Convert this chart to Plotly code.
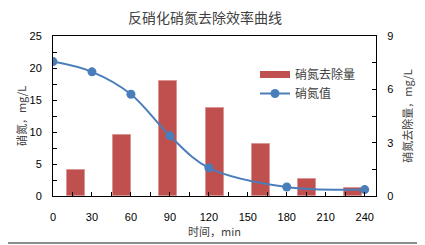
import plotly.graph_objects as go

# Data
bar_categories = ["0-30", "30-60", "60-90", "90-120", "120-150", "150-180", "180-240"]
removal_values = [1.45, 3.45, 6.47, 4.97, 2.92, 0.94, 0.47]   # 硝氮去除量, mg/L (right axis)
time_points = [0, 30, 60, 90, 120, 180, 240]
nitrate_values = [21.0, 19.4, 15.9, 9.4, 4.4, 1.4, 1.0]        # 硝氮值, mg/L (left axis)
x_tick_vals = [0, 30, 60, 90, 120, 150, 180, 210, 240]
left_tick_vals = [0, 5, 10, 15, 20, 25]
right_tick_vals = [0, 3, 6, 9]

# page body has an 8px default margin, so the figure is laid out 8px smaller/offset
OFF = 8
W, H = 425 - OFF, 245 - OFF
ML, MT = 53 - OFF, 36 - OFF
PW, PH = 323, 160
MR, MB = W - ML - PW, H - MT - PH

BAR_RED = "#C0504D"
LINE_BLUE = "#4A7EBB"
FONT = "Noto Sans CJK SC"
NUMFONT = "Liberation Sans"

fig = go.Figure()

fig.add_trace(go.Bar(
    x=bar_categories, y=removal_values, xaxis="x", yaxis="y",
    marker=dict(color=BAR_RED, line=dict(color="#D99694", width=1)),
    width=0.39, showlegend=False, name="硝氮去除量",
))
# legend entry styled like Excel's wide swatch
fig.add_trace(go.Scatter(
    x=[None], y=[None], xaxis="x2", yaxis="y2", mode="lines",
    line=dict(color=BAR_RED, width=7), name="硝氮去除量",
))
fig.add_trace(go.Scatter(
    x=time_points, y=nitrate_values, xaxis="x2", yaxis="y2",
    mode="lines+markers", line=dict(color=LINE_BLUE, width=2, shape="spline", smoothing=1.0),
    marker=dict(color=LINE_BLUE, size=9), name="硝氮值",
))

axis_font = dict(family=NUMFONT, size=11, color="#000000")
title_font = dict(family=FONT, size=11, color="#404040")

def px_x(p):
    return (p - ML) / PW

def px_y(p):
    return (MT + PH - p) / PH

BORDER = "#8C8C8C"
BX, BY = W - 2, H - 2
fig.update_layout(
    width=W, height=H,
    margin=dict(l=ML, r=MR, t=MT, b=MB, autoexpand=False),
    paper_bgcolor="white", plot_bgcolor="white",
    title=dict(text="反硝化硝氮去除效率曲线", x=(205 - OFF) / W, xanchor="center",
               y=1 - (18 - OFF) / H, yanchor="middle",
               font=dict(family=FONT, size=14, color="#404040")),
    bargap=0,
    xaxis=dict(type="category", range=[-0.5, 6.5], visible=False),
    yaxis=dict(side="right", range=[0, 9], tickvals=right_tick_vals,
               ticks="inside", ticklen=4, tickcolor="#000", tickfont=axis_font,
               minor=dict(dtick=1.5, ticks="inside", ticklen=4, tickcolor="#000"),
               showline=True, linecolor="#000", linewidth=1, showgrid=False, zeroline=False,
               ticklabelstandoff=8, automargin=False,
               title=dict(text="硝氮去除量，mg/L", font=title_font, standoff=11)),
    xaxis2=dict(overlaying="x", anchor="y", side="bottom", range=[0, 248.7],
                tickvals=x_tick_vals, ticks="inside", ticklen=4, tickcolor="#000",
                tickfont=axis_font,
                minor=dict(dtick=15, ticks="inside", ticklen=4, tickcolor="#000"),
                showline=True, linecolor="#000", linewidth=1, mirror=True,
                showgrid=False, zeroline=False, ticklabelstandoff=11, automargin=False,
                title=dict(text="时间，min", font=title_font, standoff=2)),
    yaxis2=dict(overlaying="y", anchor="x", side="left", range=[0, 25],
                tickvals=left_tick_vals, ticks="inside", ticklen=4, tickcolor="#000",
                tickfont=axis_font,
                minor=dict(dtick=2.5, ticks="inside", ticklen=4, tickcolor="#000"),
                showline=True, linecolor="#000", linewidth=1, showgrid=False, zeroline=False,
                ticklabelstandoff=8, automargin=False,
                title=dict(text="硝氮，mg/L", font=title_font, standoff=0)),
    legend=dict(x=(255 - OFF - ML) / PW, y=1 - (60 - OFF - MT) / PH, xanchor="left", yanchor="top",
                bgcolor="rgba(0,0,0,0)", font=dict(family=FONT, size=12, color="#404040"),
                tracegroupgap=0, itemwidth=30),
    shapes=[
        dict(type="line", xref="paper", yref="paper",
             x0=px_x(0), x1=px_x(BX), y0=px_y(BY), y1=px_y(BY),
             line=dict(color=BORDER, width=2), layer="above"),
        dict(type="line", xref="paper", yref="paper",
             x0=px_x(BX), x1=px_x(BX), y0=px_y(0), y1=px_y(BY),
             line=dict(color=BORDER, width=2), layer="above"),
    ],
)

fig.write_html("out.html")
